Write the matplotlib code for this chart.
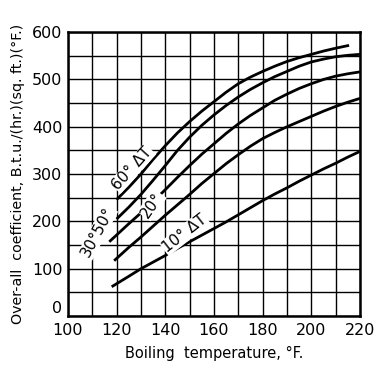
import matplotlib
matplotlib.use("Agg")
import matplotlib.pyplot as plt
import numpy as np

# boiling temperature (deg F) and over-all coefficient for each delta T curve
t_10 = [118, 125, 130, 135, 140, 145, 150, 155, 160, 165, 170, 175, 180, 185, 190, 195, 200, 205, 210, 215, 220]
u_10 = [62, 84, 100, 114, 128, 143, 157, 171, 185, 199, 214, 229, 244, 258, 271, 285, 298, 311, 323, 336, 348]

t_20 = [119, 125, 130, 135, 140, 145, 150, 155, 160, 165, 170, 175, 180, 185, 190, 195, 200, 205, 210, 215, 220]
u_20 = [117, 145, 167, 190, 213, 235, 257, 280, 301, 322, 341, 359, 375, 388, 400, 411, 422, 433, 443, 452, 460]

t_30 = [117, 125, 130, 135, 140, 145, 150, 155, 160, 165, 170, 175, 180, 185, 190, 195, 200, 205, 210, 215, 220]
u_30 = [157, 195, 218, 242, 267, 293, 318, 342, 364, 386, 406, 424, 440, 456, 469, 481, 491, 500, 507, 512, 516]

t_50 = [120, 125, 130, 135, 140, 145, 150, 155, 160, 165, 170, 175, 180, 185, 190, 195, 200, 205, 210, 215, 220]
u_50 = [205, 230, 257, 287, 318, 350, 378, 403, 425, 445, 463, 479, 493, 506, 517, 528, 537, 543, 548, 551, 553]

t_60 = [120, 125, 130, 135, 140, 145, 150, 155, 160, 165, 170, 175, 180, 185, 190, 195, 200, 205, 210, 215.5]
u_60 = [246, 272, 300, 331, 360, 387, 411, 433, 453, 473, 491, 505, 517, 528, 538, 546, 553, 560, 566, 572]

x_ticks = [100, 120, 140, 160, 180, 200, 220]
y_ticks = [0, 100, 200, 300, 400, 500, 600]

fig = plt.figure(figsize=(3.77, 3.65), dpi=100)
ax = fig.add_axes([0.180, 0.134, 0.775, 0.778])

for t, u in [(t_10, u_10), (t_20, u_20), (t_30, u_30), (t_50, u_50), (t_60, u_60)]:
    ax.plot(t, u, color="black", lw=2.0, solid_capstyle="butt",
            solid_joinstyle="round", zorder=3)

ax.set_xlim(100, 220)
ax.set_ylim(0, 600)
ax.set_xticks(x_ticks, labels=[str(v) for v in x_ticks])
ax.set_xticks(np.arange(110, 220, 20), minor=True)
ax.set_yticks(y_ticks, labels=[str(v) for v in y_ticks])
ax.set_yticks(np.arange(50, 600, 100), minor=True)
ax.grid(True, which="both", color="black", lw=1.0)
ax.tick_params(which="both", length=0, labelsize=11.5)
ax.tick_params(axis="x", pad=5)
ax.tick_params(axis="y", pad=4)
# keep the corner "0" clear of the "100" below it
ax.get_yticklabels()[0].set_va("bottom")
for s in ax.spines.values():
    s.set_linewidth(1.8)

ax.set_xlabel("Boiling  temperature, \u00b0F.", fontsize=10.5, labelpad=6)
ax.set_ylabel("Over-all  coefficient, B.t.u./(hr.)(sq. ft.)(\u00b0F.)",
              fontsize=10.3, labelpad=5)

lbl = dict(fontsize=11, ha="center", va="center", zorder=4,
           bbox=dict(facecolor="white", edgecolor="none", pad=0.5))
ax.text(126.5, 312, "60\u00b0 \u0394T", rotation=48, **lbl)
ax.text(112.3, 177, "30\u00b050\u00b0", rotation=62, **lbl)
ax.text(134.5, 235, "20\u00b0", rotation=55, **lbl)
ax.text(148, 175, "10\u00b0 \u0394T", rotation=38, **lbl)

fig.savefig("out.png", dpi=100)
